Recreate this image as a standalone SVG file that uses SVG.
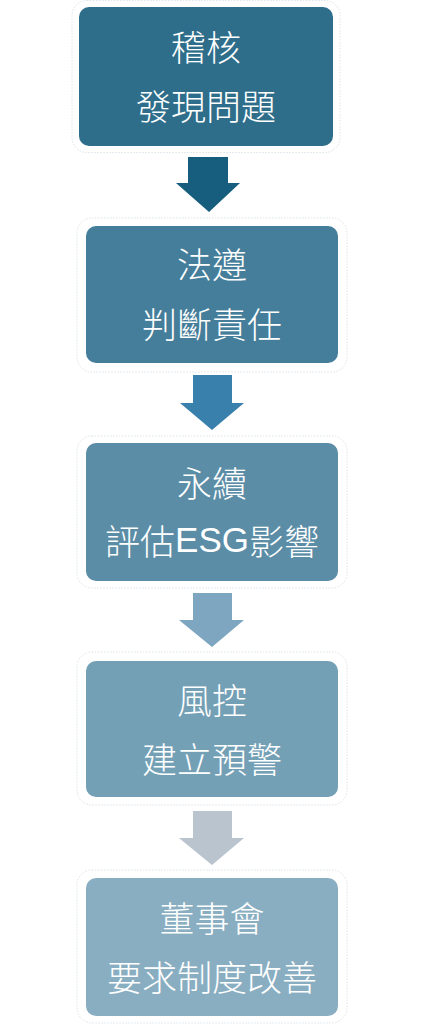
<svg xmlns="http://www.w3.org/2000/svg" width="423" height="1024" viewBox="0 0 423 1024">
<style>
.frame{fill:#ffffff;stroke:#dbe4e9;stroke-width:1;stroke-dasharray:1.5 1.5}
.t{font-family:"Noto Sans CJK TC","Noto Sans CJK SC",sans-serif;font-weight:300;font-size:35px;fill:#ffffff;text-anchor:middle;dominant-baseline:central}
.lat{font-family:"Liberation Sans",Arial,sans-serif;font-weight:400}
</style>
<rect width="423" height="1024" fill="#ffffff"/>
<g id="connectors">
<polygon points="188,157 228,157 228,183 240,183 209,212 176,183 188,183" fill="#175e7e"/>
<polygon points="193,375 232,375 232,403 244,403 212,430 180,403 193,403" fill="#3a80ad"/>
<polygon points="193,593 232,593 232,620 244,620 212,647 179,620 193,620" fill="#7ea6c0"/>
<polygon points="193,811 232,811 232,838 244,838 212,865 179,838 193,838" fill="#b9c4ce"/>
</g>
<g id="node1">
<rect class="frame" x="72" y="0.5" width="268" height="152" rx="15"/>
<rect x="79" y="7" width="254" height="139" rx="10" fill="#2e6e8b"/>
<text class="t" x="206" y="45">稽核</text>
<text class="t" x="206" y="104">發現問題</text>
</g>
<g id="node2">
<rect class="frame" x="77" y="218" width="270" height="154" rx="15"/>
<rect x="86" y="226" width="252" height="137" rx="10" fill="#457e9a"/>
<text class="t" x="212" y="262">法遵</text>
<text class="t" x="212" y="322">判斷責任</text>
</g>
<g id="node3">
<rect class="frame" x="77" y="436" width="270" height="152" rx="15"/>
<rect x="86" y="443" width="252" height="138" rx="10" fill="#5b8da6"/>
<text class="t" x="212" y="481">永續</text>
<text class="t" x="212" y="539">評估<tspan class="lat">ESG</tspan>影響</text>
</g>
<g id="node4">
<rect class="frame" x="77" y="652" width="270" height="153" rx="15"/>
<rect x="86" y="661" width="252" height="136" rx="10" fill="#74a0b6"/>
<text class="t" x="212" y="698">風控</text>
<text class="t" x="212" y="757">建立預警</text>
</g>
<g id="node5">
<rect class="frame" x="77" y="870" width="270" height="153" rx="15"/>
<rect x="86" y="878" width="252" height="138" rx="10" fill="#89aec1"/>
<text class="t" x="212" y="916">董事會</text>
<text class="t" x="212" y="975">要求制度改善</text>
</g>
</svg>
